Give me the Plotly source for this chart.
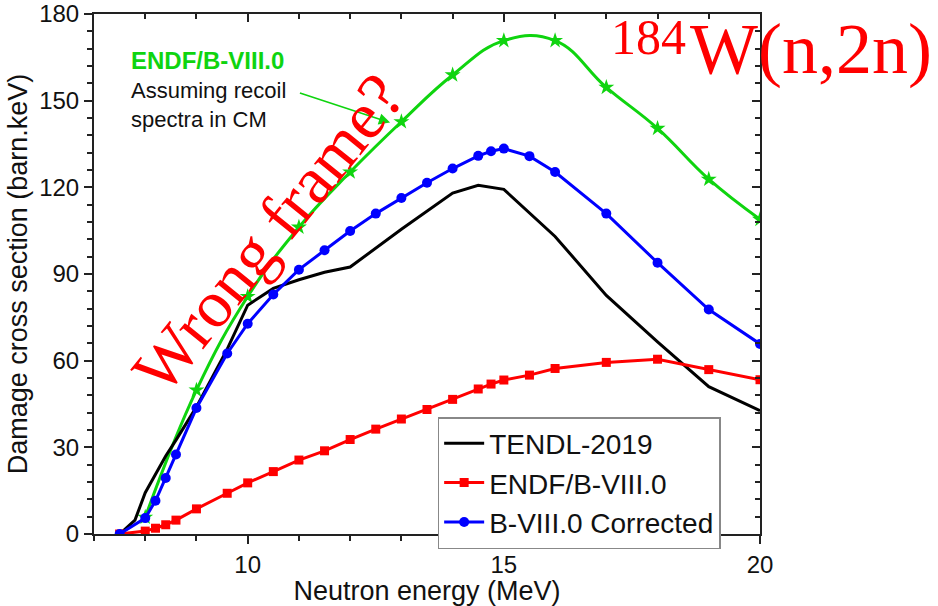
import plotly.graph_objects as go

# ---- data ----
tendl_x = [7.5, 7.8, 8.0, 8.2, 8.4, 8.6, 9.0, 9.6, 10.0, 10.5, 11.0, 11.5, 12.0, 13.0, 14.0, 14.5, 15.0, 16.0, 17.0, 18.0, 19.0, 20.0]
tendl_y = [0.0, 4.8, 14.3, 20.5, 27.0, 32.5, 44.0, 64.0, 79.2, 85.0, 88.0, 90.6, 92.4, 105.5, 118.0, 120.7, 119.3, 103.0, 82.6, 66.5, 51.0, 42.7]

endf_x = [7.5, 8.0, 8.2, 8.4, 8.6, 9.0, 9.6, 10.0, 10.5, 11.0, 11.5, 12.0, 12.5, 13.0, 13.5, 14.0, 14.5, 14.75, 15.0, 15.5, 16.0, 17.0, 18.0, 19.0, 20.0]
endf_y = [0.0, 1.0, 2.0, 3.2, 4.8, 8.7, 14.1, 17.7, 21.6, 25.6, 28.8, 32.7, 36.3, 39.8, 43.1, 46.6, 50.2, 51.9, 53.3, 55.0, 57.3, 59.4, 60.5, 56.9, 53.4]

corr_x = [7.5, 8.0, 8.2, 8.4, 8.6, 9.0, 9.6, 10.0, 10.5, 11.0, 11.5, 12.0, 12.5, 13.0, 13.5, 14.0, 14.5, 14.75, 15.0, 15.5, 16.0, 17.0, 18.0, 19.0, 20.0]
corr_y = [0.0, 5.5, 11.5, 19.4, 27.5, 43.6, 62.5, 72.8, 82.9, 91.5, 98.2, 104.9, 110.9, 116.3, 121.6, 126.5, 130.9, 132.5, 133.4, 130.8, 125.3, 110.9, 93.9, 77.7, 65.8]

cm_x = [8, 9, 10, 11, 12, 13, 14, 15, 16, 17, 18, 19, 20]
cm_y = [5.8, 49.8, 82.2, 106.2, 125.3, 142.7, 158.9, 170.8, 170.8, 154.6, 140.4, 122.8, 108.9]

x_range = [7, 20]
y_range = [0, 180]

SANS = "Arial, 'Liberation Sans', sans-serif"
SERIF = "'Times New Roman', 'Liberation Serif', serif"
GREEN = "#0fd40f"

fig = go.Figure()

fig.add_trace(go.Scatter(x=cm_x, y=cm_y, mode="lines+markers", line=dict(color=GREEN, width=3, shape="spline", smoothing=1.2),
                         marker=dict(symbol="star", size=12, color=GREEN), showlegend=False))
fig.add_trace(go.Scatter(x=tendl_x, y=tendl_y, mode="lines", name="TENDL-2019",
                         line=dict(color="black", width=3)))
fig.add_trace(go.Scatter(x=endf_x, y=endf_y, mode="lines+markers", name="ENDF/B-VIII.0",
                         line=dict(color="#ff0000", width=3), marker=dict(symbol="square", size=9, color="#ff0000")))
fig.add_trace(go.Scatter(x=corr_x, y=corr_y, mode="lines+markers", name="B-VIII.0 Corrected",
                         line=dict(color="#0000ff", width=3), marker=dict(symbol="circle", size=10, color="#0000ff")))
# invisible trace to carry mirrored (inside-tick) axes
fig.add_trace(go.Scatter(x=cm_x, y=cm_y, xaxis="x2", yaxis="y2", mode="lines", opacity=0,
                         showlegend=False, hoverinfo="skip"))

axis_common = dict(showline=True, linecolor="#222", linewidth=2, showgrid=False, zeroline=False,
                   tickcolor="#222", tickwidth=1.5, automargin=False)

fig.update_layout(
    width=938, height=606,
    margin=dict(l=94, r=178, t=14, b=72),
    paper_bgcolor="white", plot_bgcolor="white",
    font=dict(family=SANS, color="#111"),
    xaxis=dict(range=x_range, tick0=0, dtick=5, ticks="outside", ticklen=8,
               minor=dict(dtick=1, tick0=0, ticks="outside", ticklen=5, tickcolor="#222"),
               tickfont=dict(size=24, family=SANS, color="#111"),
               title=dict(text="Neutron energy (MeV)", font=dict(size=27, family=SANS, color="#111"), standoff=2),
               **axis_common),
    yaxis=dict(range=y_range, tick0=0, dtick=30, ticks="outside", ticklen=8,
               minor=dict(dtick=6, tick0=0, ticks="outside", ticklen=5, tickcolor="#222"),
               tickfont=dict(size=24, family=SANS, color="#111"),
               title=dict(text="Damage cross section (barn.keV)", font=dict(size=27, family=SANS, color="#111"), standoff=4),
               **axis_common),
    xaxis2=dict(range=x_range, overlaying="x", side="top", anchor="y", tick0=0, dtick=5, ticks="inside", ticklen=8,
                minor=dict(dtick=1, tick0=0, ticks="inside", ticklen=5, tickcolor="#222"),
                showticklabels=False, **axis_common),
    yaxis2=dict(range=y_range, overlaying="y", side="right", anchor="x", tick0=0, dtick=30, ticks="inside", ticklen=8,
                minor=dict(dtick=6, tick0=0, ticks="inside", ticklen=5, tickcolor="#222"),
                showticklabels=False, **axis_common),
    legend=dict(x=0.516, y=0.225, xanchor="left", yanchor="top", bgcolor="white",
                bordercolor="#888", borderwidth=1.5, font=dict(size=28, family=SANS, color="#111"),
                tracegroupgap=0, itemwidth=40),
    showlegend=True,
)

def px_x(p):
    return (p - 94) / 666

def px_y(p):
    return (533.5 - p) / 519.5

fig.add_annotation(xref="paper", yref="paper", x=px_x(129), y=px_y(60), xanchor="left", yanchor="middle",
                   text="<b>ENDF/B-VIII.0</b>", showarrow=False, font=dict(size=24, family=SANS, color=GREEN))
fig.add_annotation(xref="paper", yref="paper", x=px_x(129), y=px_y(105), xanchor="left", yanchor="middle", align="left",
                   text="Assuming recoil<br>spectra in CM", showarrow=False, font=dict(size=22, family=SANS, color="#111"))
fig.add_annotation(xref="x", yref="y", x=12.78, y=142.4, axref="x", ayref="y", ax=10.99, ay=152.8,
                   text="", showarrow=True, arrowhead=2, arrowsize=1.4, arrowwidth=1.6, arrowcolor=GREEN)
fig.add_annotation(xref="paper", yref="paper", x=px_x(268), y=px_y(233),
                   xanchor="center", yanchor="middle", text="Wrong frame?", textangle=-51, showarrow=False,
                   font=dict(size=67, family=SERIF, color="#ff0000"))
fig.add_annotation(xref="paper", yref="paper", x=px_x(688), y=px_y(49),
                   xanchor="left", yanchor="middle", text="W(n,2n)", showarrow=False,
                   font=dict(size=72, family=SERIF, color="#ff0000"))
fig.add_annotation(xref="paper", yref="paper", x=px_x(688), y=px_y(37),
                   xanchor="right", yanchor="middle", text="184", showarrow=False,
                   font=dict(size=50, family=SERIF, color="#ff0000"))

fig.write_html("out.html")
